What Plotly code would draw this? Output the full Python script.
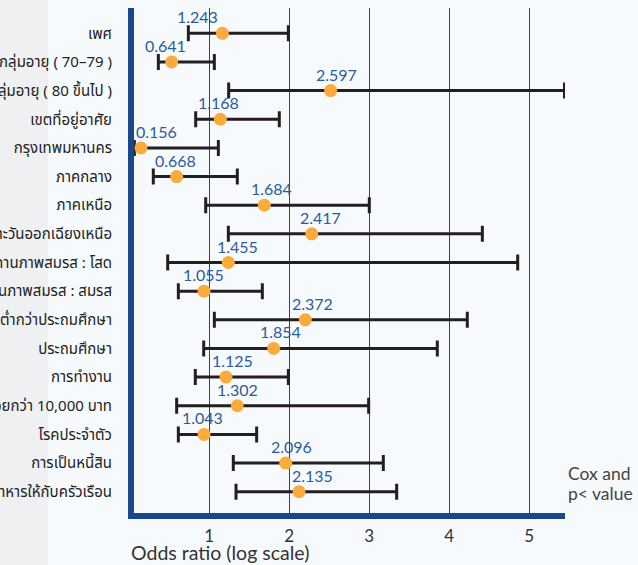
import plotly.graph_objects as go

# ---- data ----
categories = [
    "เพศ",
    "กลุ่มอายุ ( 70–79 )",
    "กลุ่มอายุ ( 80 ขึ้นไป )",
    "เขตที่อยู่อาศัย",
    "กรุงเทพมหานคร",
    "ภาคกลาง",
    "ภาคเหนือ",
    "ภาคตะวันออกเฉียงเหนือ",
    "สถานภาพสมรส : โสด",
    "สถานภาพสมรส : สมรส",
    "ต่ำกว่าประถมศึกษา",
    "ประถมศึกษา",
    "การทำงาน",
    "รายได้น้อยกว่า 10,000 บาท",
    "โรคประจำตัว",
    "การเป็นหนี้สิน",
    "อาหารให้กับครัวเรือน",
]
or_text = ["1.243", "0.641", "2.597", "1.168", "0.156", "0.668", "1.684", "2.417",
           "1.455", "1.055", "2.372", "1.854", "1.125", "1.302", "1.043", "2.096", "2.135"]
point = [1.163, 0.53, 2.517, 1.138, 0.146, 0.592, 1.688, 2.28,
         1.238, 0.934, 2.2, 1.805, 1.209, 1.35, 0.934, 1.955, 2.121]
ci_low = [0.738, 0.363, 1.242, 0.83, 0.063, 0.30, 0.955, 1.238,
          0.48, 0.613, 1.063, 0.93, 0.825, 0.592, 0.613, 1.30, 1.334]
ci_high = [1.988, 1.063, 5.44, 1.875, 1.113, 1.35, 3.0, 4.413,
           4.855, 1.663, 4.225, 3.85, 1.988, 2.992, 1.592, 3.175, 3.342]
x_ticks = [1, 2, 3, 4, 5]

# ---- layout geometry ----
W, H = 638, 565
L, T, R, B = 128, 8, 73, 46
PW, PH = W - L - R, H - T - B

AXIS_BLUE = "#18488a"
TEXT_BLUE = "#2d5a9b"
LATIN = "Lato, Open Sans, sans-serif"

err_plus = [h - p for h, p in zip(ci_high, point)]
err_minus = [p - l for p, l in zip(point, ci_low)]

fig = go.Figure()
fig.add_trace(go.Scatter(
    x=point, y=categories, mode="markers",
    marker=dict(size=13, color="#fbab3c", line=dict(width=0)),
    error_x=dict(type="data", array=err_plus, arrayminus=err_minus,
                 color="#231f20", thickness=3, width=8),
    hoverinfo="skip", showlegend=False,
))

# per-label horizontal nudges (px) to mimic the reference's label placement
label_dx = [-25, -6, 6, -2, 16, -1, 7, 9, 9, -1, 7, 7, 6, 0, -2, 6, 14]
annotations = []
for cat, p, txt, dx in zip(categories, point, or_text, label_dx):
    annotations.append(dict(
        x=p, y=cat, xref="x", yref="y", text=txt, showarrow=False,
        xanchor="center", yanchor="middle", xshift=dx, yshift=16.5,
        font=dict(family=LATIN, size=16, color=TEXT_BLUE),
    ))

annotations.append(dict(
    x=(129 - L) / PW, y=(T + PH - 553) / PH, xref="paper", yref="paper",
    text="Odds ratio (log scale)", showarrow=False, xanchor="left", yanchor="middle",
    font=dict(family=LATIN, size=19.5, color="#333333"),
))
annotations.append(dict(
    x=(566 - L) / PW, y=(T + PH - 473) / PH, xref="paper", yref="paper",
    text="Cox and", showarrow=False, xanchor="left", yanchor="middle",
    font=dict(family=LATIN, size=17.5, color="#444444"),
))
annotations.append(dict(
    x=(566 - L) / PW, y=(T + PH - 493) / PH, xref="paper", yref="paper",
    text="p< value", showarrow=False, xanchor="left", yanchor="middle",
    font=dict(family=LATIN, size=17.5, color="#444444"),
))

shapes = [
    # left grey panel
    dict(type="rect", xref="paper", yref="paper",
         x0=(0 - L) / PW, x1=(48 - L) / PW, y0=-B / PH, y1=1 + T / PH,
         fillcolor="#eff0f2", line=dict(width=0), layer="below"),
    # thick left axis
    dict(type="rect", xref="paper", yref="paper",
         x0=0, x1=6 / PW, y0=0, y1=1,
         fillcolor=AXIS_BLUE, line=dict(width=0), layer="above"),
    # thick bottom axis
    dict(type="rect", xref="paper", yref="paper",
         x0=0, x1=1, y0=0, y1=6 / PH,
         fillcolor=AXIS_BLUE, line=dict(width=0), layer="above"),
]

n = len(categories)
step_px = (491.7 - 33.3) / (n - 1)
y_top = -(33.3 - T) / step_px
y_bot = (n - 1) + (T + PH - 491.7) / step_px

fig.update_layout(
    width=W, height=H,
    margin=dict(l=L, r=R, t=T, b=B, pad=0, autoexpand=False),
    paper_bgcolor="#f7fafd", plot_bgcolor="#f7fafd",
    xaxis=dict(range=[(L - 129.3) / 80, (565 - 129.3) / 80], automargin=False,
               tickvals=x_ticks, ticktext=[str(v) for v in x_ticks],
               showgrid=True, gridcolor=AXIS_BLUE, gridwidth=1,
               zeroline=False, showline=False, ticks="",
               ticklabelstandoff=5,
               tickfont=dict(family=LATIN, size=17, color="#333333")),
    yaxis=dict(type="category", categoryorder="array", categoryarray=categories,
               range=[y_bot, y_top], automargin=False,
               showgrid=False, zeroline=False, showline=False,
               ticks="", ticklabelstandoff=15,
               tickfont=dict(family="Noto Sans Thai, Noto Sans, Tlwg Typo, sans-serif",
                             size=15, color="#222222")),
    shapes=shapes,
    annotations=annotations,
)

fig.write_html(
    "out.html",
    config={"displayModeBar": False, "staticPlot": True},
    post_script="document.body.style.margin='0';document.body.style.overflow='hidden';",
)
